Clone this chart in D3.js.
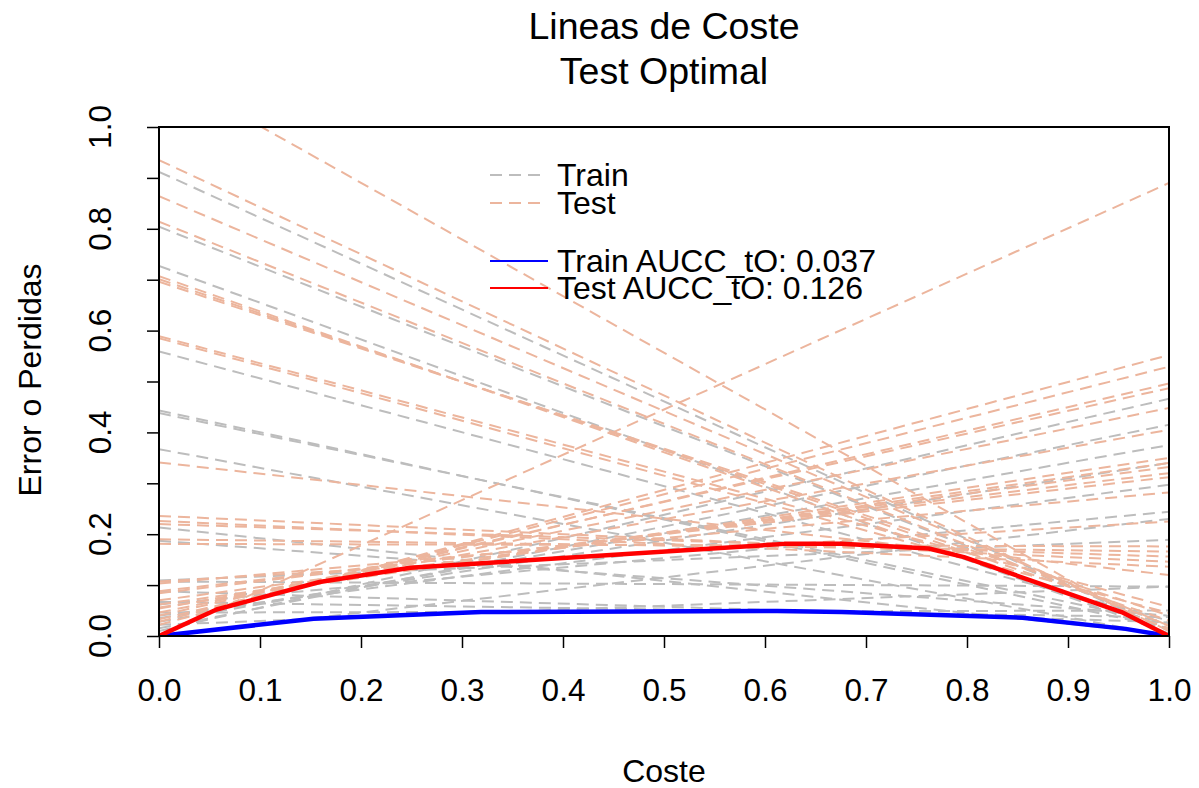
<!DOCTYPE html>
<html>
<head>
<meta charset="utf-8">
<script src="https://cdn.jsdelivr.net/npm/d3@7"></script>
<style>
  html, body { margin: 0; padding: 0; background: #fff; }
  svg { display: block; font-family: "Liberation Sans", Arial, Helvetica, sans-serif; }
</style>
</head>
<body>
<svg id="chart" width="1199" height="788"></svg>
<script>
// ---------------- data ----------------
const titleLines = ["Lineas de Coste", "Test Optimal"];
const xLabel = "Coste";
const yLabel = "Error o Perdidas";
const xTicks = [0, 0.1, 0.2, 0.3, 0.4, 0.5, 0.6, 0.7, 0.8, 0.9, 1.0];
const yTicks = [0, 0.1, 0.2, 0.3, 0.4, 0.5, 0.6, 0.7, 0.8, 0.9, 1.0];
const yTickLabels = [0, 0.2, 0.4, 0.6, 0.8, 1.0];

// cost lines: value at cost 0 (left) and at cost 1 (right)
const trainLeft  = [0.912, 0.804, 0.727, 0.559, 0.443, 0.438, 0.367, 0.213, 0.187, 0.109, 0.107, 0.088, 0.067, 0.062, 0.046, 0.040, 0.035, 0.028, 0.022, 0.015, 0.010, 0.000];
const trainRight = [0.010, 0.020, 0.005, 0.030, 0.015, 0.025, 0.000, 0.003, 0.040, 0.189, 0.097, 0.027, 0.037, 0.244, 0.050, 0.297, 0.340, 0.375, 0.097, 0.415, 0.466, 0.230];

const testLeft  = [1.113, 0.935, 0.864, 0.814, 0.707, 0.701, 0.696, 0.589, 0.585, 0.341, 0.236, 0.226, 0.220, 0.190, 0.181, 0.107, 0.103, 0.088, 0.084, 0.070, 0.062, 0.056, 0.054, 0.046, 0.040, 0.033, 0.028, 0.022, 0.000];
const testRight = [0.000, 0.010, 0.020, 0.020, 0.015, 0.030, 0.040, 0.057, 0.045, 0.120, 0.146, 0.136, 0.156, 0.166, 0.176, 0.225, 0.282, 0.312, 0.320, 0.332, 0.340, 0.350, 0.405, 0.448, 0.487, 0.496, 0.529, 0.552, 0.890];

// optimal (lower envelope) curves
const trainOptX = [0, 0.153, 0.319, 0.612, 0.676, 0.855, 0.957, 1];
const trainOptY = [0, 0.034, 0.047, 0.049, 0.047, 0.036, 0.014, 0];
const testOptX  = [0, 0.057, 0.159, 0.249, 0.619, 0.676, 0.762, 0.797, 0.953, 1];
const testOptY  = [0, 0.052, 0.106, 0.134, 0.181, 0.181, 0.172, 0.155, 0.047, 0];

const legend1 = ["Train", "Test"];
const legend2 = ["Train AUCC_tO: 0.037", "Test AUCC_tO: 0.126"];

// ---------------- drawing ----------------
const colTrain = "#bdbdbd";
const colTest = "#ecb59d";
const svg = d3.select("#chart");
const pL = 159, pR = 1169, pT = 127, pB = 636;
const x = d3.scaleLinear().domain([0, 1]).range([pL, pR]);
const y = d3.scaleLinear().domain([0, 1]).range([pB, pT]);

svg.append("defs").append("clipPath").attr("id", "plotclip")
  .append("rect").attr("x", pL).attr("y", pT)
  .attr("width", pR - pL).attr("height", pB - pT);

const plot = svg.append("g").attr("clip-path", "url(#plotclip)");

const trainLines = trainLeft.map((l, i) => [l, trainRight[i]]);
const testLines = testLeft.map((l, i) => [l, testRight[i]]);

plot.selectAll("line.train").data(trainLines).join("line")
  .attr("class", "train")
  .attr("x1", x(0)).attr("x2", x(1))
  .attr("y1", d => y(d[0])).attr("y2", d => y(d[1]))
  .attr("stroke", colTrain).attr("stroke-width", 2)
  .attr("stroke-dasharray", "12,7");

plot.selectAll("line.test").data(testLines).join("line")
  .attr("class", "test")
  .attr("x1", x(0)).attr("x2", x(1))
  .attr("y1", d => y(d[0])).attr("y2", d => y(d[1]))
  .attr("stroke", colTest).attr("stroke-width", 2)
  .attr("stroke-dasharray", "12,7");

const lineGen = d3.line().x(d => x(d[0])).y(d => y(d[1]));
plot.append("path")
  .datum(trainOptX.map((v, i) => [v, trainOptY[i]]))
  .attr("d", lineGen).attr("fill", "none")
  .attr("stroke", "#0000ff").attr("stroke-width", 4.5).attr("stroke-linejoin", "round");
plot.append("path")
  .datum(testOptX.map((v, i) => [v, testOptY[i]]))
  .attr("d", lineGen).attr("fill", "none")
  .attr("stroke", "#ff0000").attr("stroke-width", 4.5).attr("stroke-linejoin", "round");

// box
svg.append("rect").attr("x", pL).attr("y", pT)
  .attr("width", pR - pL).attr("height", pB - pT)
  .attr("fill", "none").attr("stroke", "#000").attr("stroke-width", 2);

// x axis
const xAxis = svg.append("g").attr("transform", `translate(0,${pB})`)
  .call(d3.axisBottom(x).tickValues(xTicks).tickSize(12).tickFormat(d3.format(".1f")));
xAxis.select(".domain").remove();
xAxis.selectAll(".tick line").attr("stroke", "#000").attr("stroke-width", 1.5);
xAxis.selectAll(".tick text")
  .attr("y", 54).attr("dy", "0.35em")
  .attr("font-size", 31.5).attr("font-family", "Liberation Sans, Arial, sans-serif").attr("fill", "#000");

// y axis
const yAxis = svg.append("g").attr("transform", `translate(${pL},0)`)
  .call(d3.axisLeft(y).tickValues(yTicks).tickSize(12).tickFormat(""));
yAxis.select(".domain").remove();
yAxis.selectAll(".tick line").attr("stroke", "#000").attr("stroke-width", 1.5);

svg.append("g").selectAll("text").data(yTickLabels).join("text")
  .attr("transform", d => `translate(100,${y(d)}) rotate(-90)`)
  .attr("text-anchor", "middle").attr("dy", "0.35em")
  .attr("font-size", 31.5).attr("fill", "#000")
  .text(d => d3.format(".1f")(d));

// titles
svg.append("text").attr("x", 664).attr("y", 39).attr("text-anchor", "middle")
  .attr("font-size", 37.5).attr("fill", "#000").text(titleLines[0]);
svg.append("text").attr("x", 664).attr("y", 84).attr("text-anchor", "middle")
  .attr("font-size", 37.5).attr("fill", "#000").text(titleLines[1]);

svg.append("text").attr("x", 664).attr("y", 782).attr("text-anchor", "middle")
  .attr("font-size", 32).attr("fill", "#000").text(xLabel);
svg.append("text").attr("transform", "translate(30,380) rotate(-90)")
  .attr("text-anchor", "middle").attr("dy", "0.35em")
  .attr("font-size", 32).attr("fill", "#000").text(yLabel);

// legends
const leg1 = svg.append("g");
const leg1Y = [175, 203];
const leg1Col = [colTrain, colTest];
legend1.forEach((t, i) => {
  leg1.append("line").attr("x1", 490).attr("x2", 546).attr("y1", leg1Y[i]).attr("y2", leg1Y[i])
    .attr("stroke", leg1Col[i]).attr("stroke-width", 2).attr("stroke-dasharray", "12,7");
  leg1.append("text").attr("x", 557).attr("y", leg1Y[i]).attr("dy", "0.35em")
    .attr("font-size", 32).attr("fill", "#000").text(t);
});
const leg2 = svg.append("g");
const leg2Y = [261, 288];
const leg2Col = ["#0000ff", "#ff0000"];
legend2.forEach((t, i) => {
  leg2.append("line").attr("x1", 490).attr("x2", 548).attr("y1", leg2Y[i]).attr("y2", leg2Y[i])
    .attr("stroke", leg2Col[i]).attr("stroke-width", 2);
  leg2.append("text").attr("x", 557).attr("y", leg2Y[i]).attr("dy", "0.35em")
    .attr("font-size", 32).attr("fill", "#000").text(t);
});
</script>
</body>
</html>
